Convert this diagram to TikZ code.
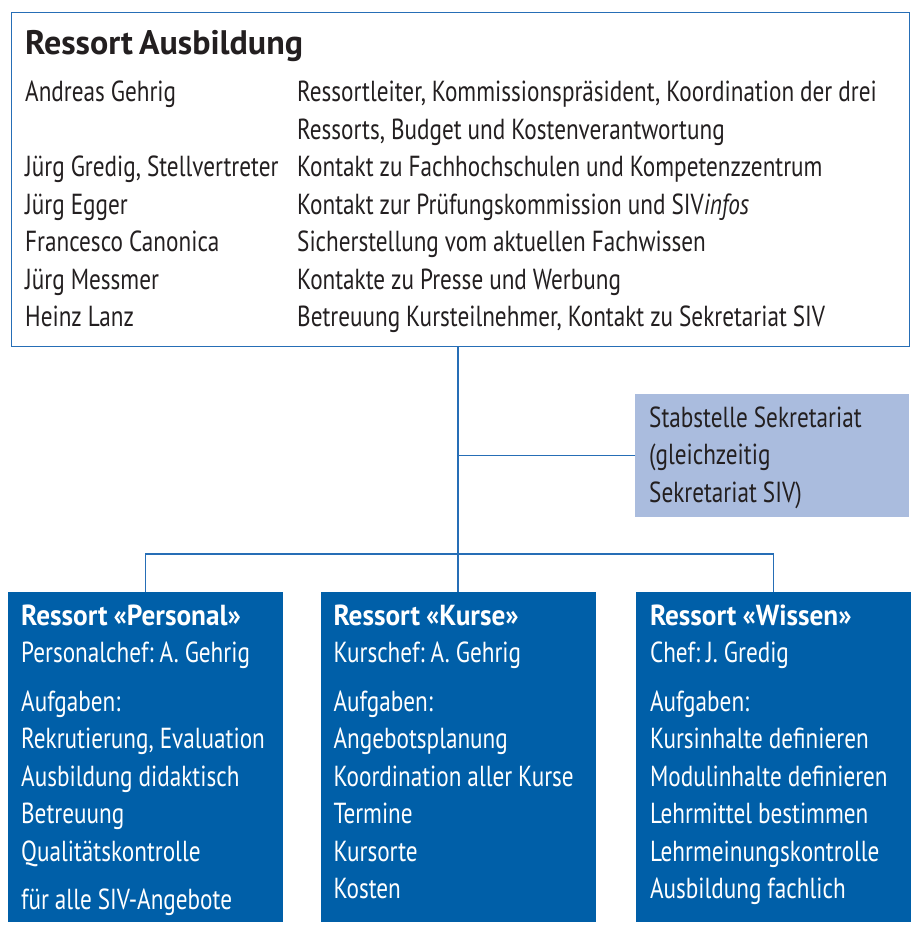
\documentclass[tikz,border=0pt]{standalone}
\usepackage{fontspec}
\setmainfont{PT Sans}[FakeStretch=0.8]
\newfontfamily\headfont{PT Sans}[FakeStretch=0.94]
\newfontfamily\titlefont{PT Sans}
\usepackage{xcolor}
\usetikzlibrary{positioning}
\definecolor{lineblue}{RGB}{38,110,182}
\definecolor{ressortblue}{RGB}{0,95,168}
\definecolor{stabblue}{RGB}{170,188,222}
\definecolor{textgray}{RGB}{35,31,32}

\begin{document}
\begin{tikzpicture}
		[x=1pt,y=-1pt,
		connect/.style={draw=lineblue,line width=1.4pt},
		head/.style={rectangle,draw=lineblue,line width=1.4pt,fill=white,anchor=north west,inner sep=0pt,minimum width=898pt,minimum height=334pt},
		ressort/.style={rectangle,fill=ressortblue,anchor=north west,inner sep=0pt,minimum width=275pt,minimum height=330pt},
		stab/.style={rectangle,fill=stabblue,anchor=north west,inner sep=0pt,minimum width=274pt,minimum height=123pt},
		txt/.style={anchor=base west,align=left,inner sep=0pt,text width=#1,font={\fontsize{29}{37.5}\selectfont},text=textgray,
			execute at begin node={\frenchspacing\spaceskip=6pt plus 1pt minus 0.5pt\relax}},
		wtxt/.style={txt=#1,text=white}]
		\fill [white] (0,0) rectangle (912,928);
		\useasboundingbox (0,0) rectangle (912,928);

		\node [head] (top) at (11,12) {};
		\node [txt=600pt,font={\titlefont\bfseries\fontsize{34}{40}\selectfont}] (title) at (25,55) {Ressort Ausbildung};
		\node [txt=275pt] (names) at (25,102) {Andreas Gehrig\\[37.5pt]
			Jürg Gredig, Stellvertreter\\ Jürg Egger\\ Francesco Canonica\\ Jürg Messmer\\ Heinz Lanz};
		\node [txt=605pt] (duties) at (297,102) {Ressortleiter, Kommissionspräsident, Koordination der drei\\
			Ressorts, Budget und Kostenverantwortung\\
			Kontakt zu Fachhochschulen und Kompetenzzentrum\\
			Kontakt zur Prüfungskommission und SIV\emph{infos}\\
			Sicherstellung vom aktuellen Fachwissen\\
			Kontakte zu Presse und Werbung\\
			Betreuung Kursteilnehmer, Kontakt zu Sekretariat SIV};

		\node [stab] (sek) at (635,394) {};
		\node [txt=255pt] (sektxt) at (649,427) {Stabstelle Sekretariat\\ (gleichzeitig\\ Sekretariat SIV)};

		\node [ressort] (personal) at (8,592) {};
		\node [ressort] (kurse) [right=37pt of personal] {};
		\node [ressort] (wissen) [right=40pt of kurse] {};

		\node [wtxt=260pt] (personaltxt) at ([xshift=13pt,yshift=-33pt]personal.north west) {{\headfont\bfseries Ressort «Personal»}\\
			Personalchef: A. Gehrig\\[11pt]
			Aufgaben:\\ Rekrutierung, Evaluation\\ Ausbildung didaktisch\\ Betreuung\\ Qualitätskontrolle\\[11pt]
			für alle SIV-Angebote};
		\node [wtxt=260pt] (kursetxt) at ([xshift=13pt,yshift=-33pt]kurse.north west) {{\headfont\bfseries Ressort «Kurse»}\\
			Kurschef: A. Gehrig\\[11pt]
			Aufgaben:\\ Angebotsplanung\\ Koordination aller Kurse\\ Termine\\ Kursorte\\ Kosten};
		\node [wtxt=260pt] (wissentxt) at ([xshift=14pt,yshift=-33pt]wissen.north west) {{\headfont\bfseries Ressort «Wissen»}\\
			Chef: J. Gredig\\[11pt]
			Aufgaben:\\ Kursinhalte definieren\\ Modulinhalte definieren\\ Lehrmittel bestimmen\\ Lehrmeinungskontrolle\\ Ausbildung fachlich};

		\coordinate (bus) at (kurse.north |- 0,554);
		\draw [connect] (top.south -| kurse.north) -- (kurse.north);
		\draw [connect] (personal.north) |- (bus) -| (wissen.north);
		\draw [connect] (sek.west) -- (sek.west -| kurse.north);
	\end{tikzpicture}
\end{document}
